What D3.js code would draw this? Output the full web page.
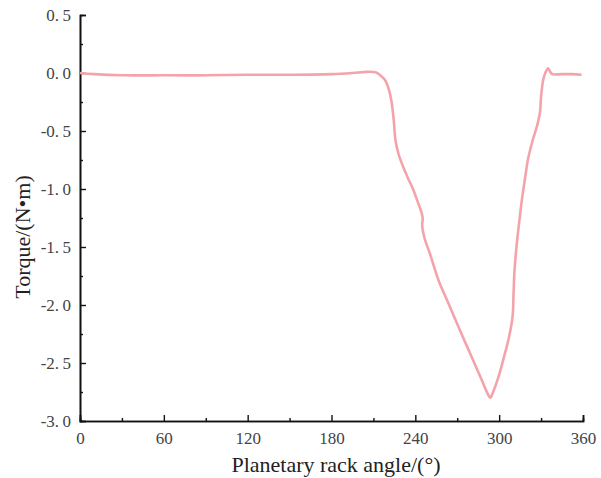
<!DOCTYPE html>
<html>
<head>
<meta charset="utf-8">
<script src="https://cdn.jsdelivr.net/npm/d3@7"></script>
<style>
  body { margin: 0; background: #fff; }
  text { font-family: "Liberation Serif", "DejaVu Serif", serif; }
</style>
</head>
<body>
<svg class="plot" width="601" height="478"></svg>
<script>
  var width = 601
  var height = 478
  // values
  var angles = [0, 10, 30, 60, 90, 120, 150, 180, 195, 205, 212, 215, 218.3, 221, 223, 224.5, 225.8, 228, 231, 234.5, 238.3, 242, 244.6, 245.3, 244.9, 246.5, 250.5, 257, 263.5, 272, 281.5, 288, 292, 293.6, 296, 299.5, 303.4, 307, 309.6, 310.3, 310.9, 311.8, 312.8, 314.5, 316.3, 318.5, 320.7, 324, 327, 329.2, 330, 331.5, 333, 335, 336.5, 338, 345, 352, 359]
  var torque = [0.0, -0.01, -0.02, -0.02, -0.02, -0.015, -0.015, -0.01, 0.0, 0.01, 0.005, -0.02, -0.06, -0.14, -0.25, -0.4, -0.58, -0.7, -0.8, -0.9, -1.0, -1.12, -1.21, -1.26, -1.31, -1.42, -1.56, -1.8, -1.98, -2.22, -2.48, -2.66, -2.77, -2.8, -2.74, -2.62, -2.45, -2.28, -2.1, -1.9, -1.72, -1.58, -1.45, -1.27, -1.09, -0.91, -0.74, -0.58, -0.46, -0.34, -0.2, -0.06, 0.0, 0.04, 0.01, -0.01, -0.01, -0.01, -0.015]
  var xTicks = [0, 60, 120, 180, 240, 300, 360]
  var yTicks = [0.5, 0.0, -0.5, -1.0, -1.5, -2.0, -2.5, -3.0]

  var margin = { "top": 15, "right": 18, "bottom": 57, "left": 80 }
  var chart_width = width - margin.left - margin.right
  var chart_height = height - margin.top - margin.bottom
  const svg = d3.select("svg.plot")
  const xScale = d3.scaleLinear().domain([0, 360]).range([0, chart_width])
  const yScale = d3.scaleLinear().domain([-3, 0.5]).range([chart_height, 0])

  const g = svg.append("g").attr("transform", "translate(" + margin.left + "," + margin.top + ")")

  // minor ticks
  let xMinor = d3.axisBottom(xScale).tickValues(d3.range(30, 360, 60)).tickFormat("").tickSize(-3)
  let yMinor = d3.axisLeft(yScale).tickValues(d3.range(-2.75, 0.5, 0.5)).tickFormat("").tickSize(-3)
  let bottomAxis = d3.axisBottom(xScale).tickValues(xTicks).tickSize(-6).tickPadding(11)
  let leftAxis = d3.axisLeft(yScale).tickValues(yTicks).tickSize(-6).tickPadding(9)
    .tickFormat(d => d3.format(".1f")(d).replace("−", "-").replace(".", ".\u2009"))

  g.append("g").attr("class", "x axis")
    .attr("transform", "translate(0," + chart_height + ")")
    .call(bottomAxis)
  g.append("g").attr("class", "x minor")
    .attr("transform", "translate(0," + chart_height + ")")
    .call(xMinor)
  g.append("g").attr("class", "y axis").call(leftAxis)
  g.append("g").attr("class", "y minor").call(yMinor)

  g.selectAll(".domain").attr("stroke", "#111").attr("stroke-width", 1.6)
  g.selectAll(".tick line").attr("stroke", "#111").attr("stroke-width", 1.4)
  g.selectAll(".tick text").attr("font-size", 17).attr("fill", "#444")
    .attr("font-family", "Liberation Serif")

  const line = d3.line()
    .x(d => xScale(d[0]))
    .y(d => yScale(d[1]))
    .curve(d3.curveCatmullRom)
  g.append("path")
    .datum(angles.map((a, i) => [a, torque[i]]))
    .attr("d", line)
    .attr("fill", "none")
    .attr("stroke", "#f5a3ab")
    .attr("stroke-width", 2.6)

  svg.append("text")
    .attr("x", 336)
    .attr("y", 472)
    .attr("text-anchor", "middle")
    .attr("font-size", 22)
    .attr("fill", "#222")
    .text("Planetary rack angle/(°)")
  svg.append("text")
    .attr("transform", "translate(30,237) rotate(-90)")
    .attr("text-anchor", "middle")
    .attr("font-size", 22)
    .attr("fill", "#222")
    .text("Torque/(N•m)")
</script>
</body>
</html>
